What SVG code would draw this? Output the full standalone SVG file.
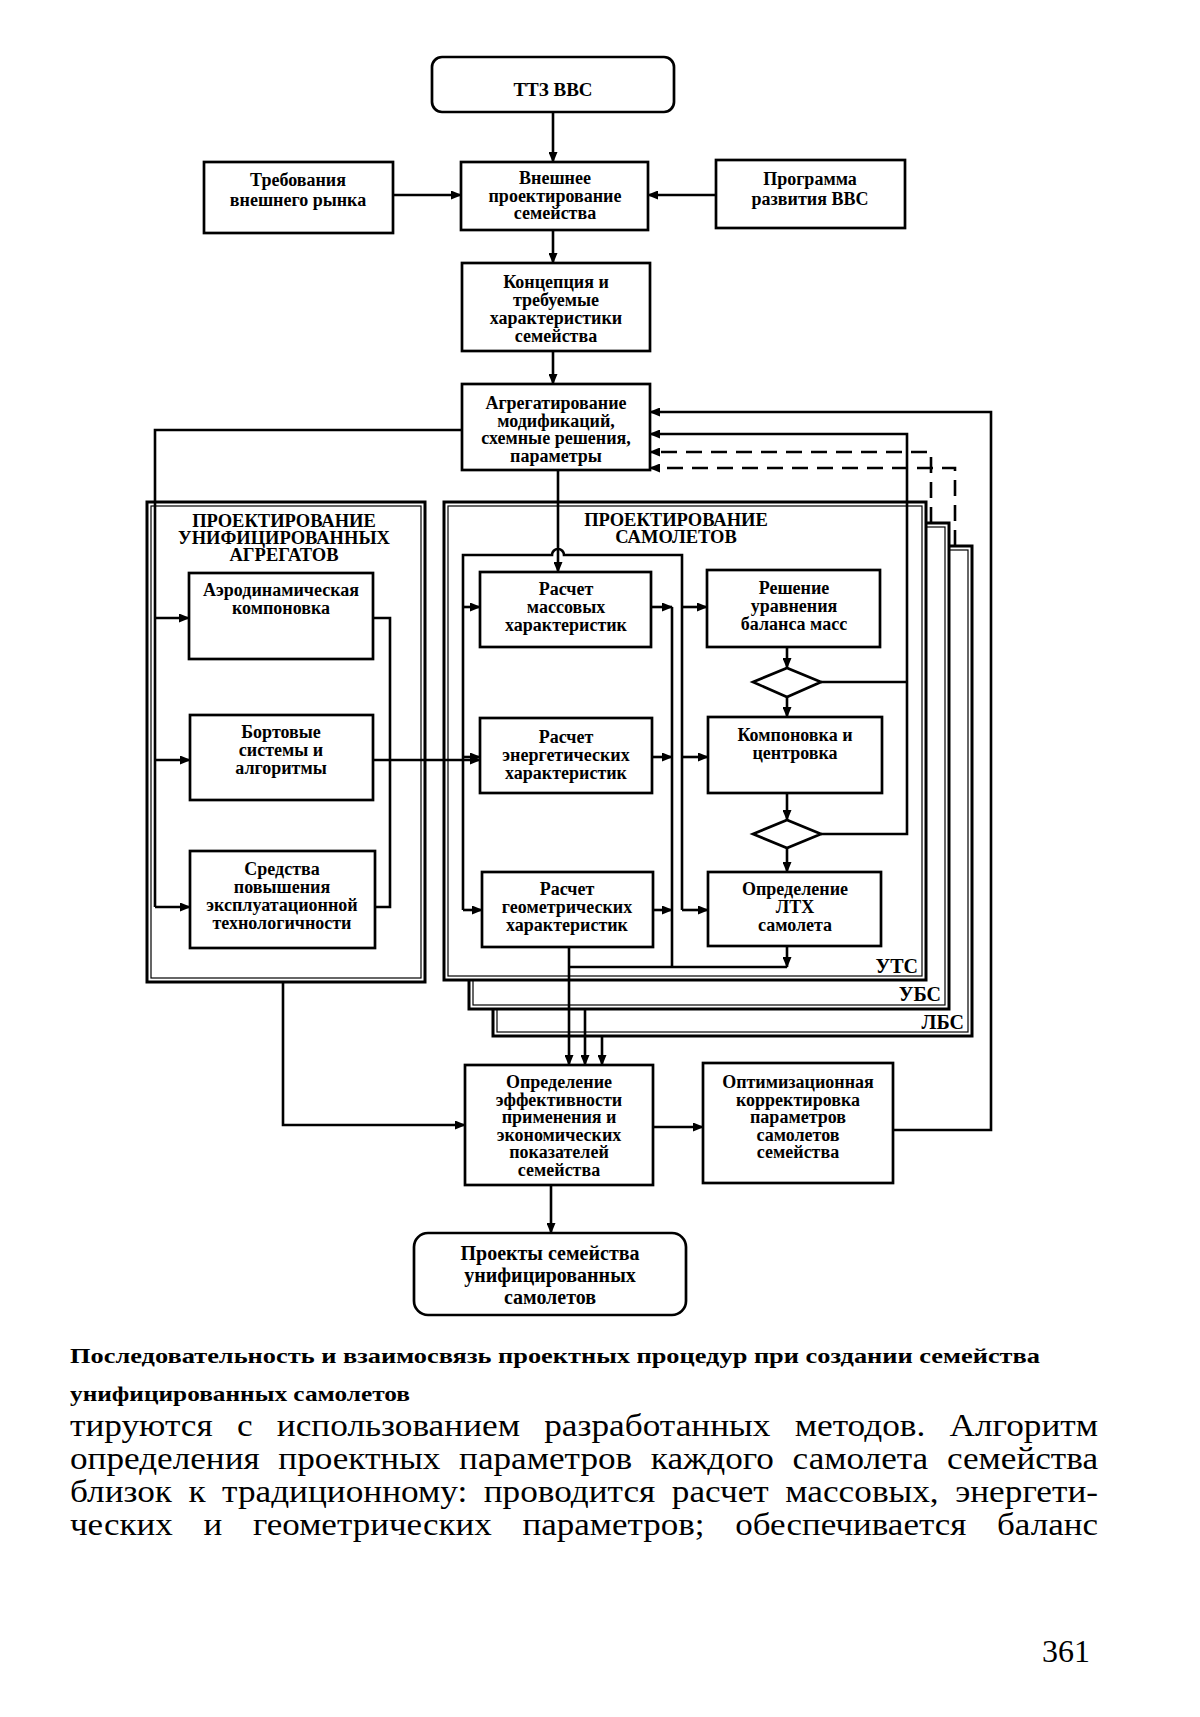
<svg xmlns="http://www.w3.org/2000/svg" width="1200" height="1717" viewBox="0 0 1200 1717">
<style>
.box{fill:#fff;stroke:#000;stroke-width:2.7}
.frm{fill:#fff;stroke:#000;stroke-width:3}
.frmi{fill:none;stroke:#000;stroke-width:1.2}
.ln{fill:none;stroke:#000;stroke-width:2.6}
.dash{stroke-dasharray:16 9}
.t{font-family:"Liberation Serif","Times New Roman",serif;font-weight:bold;font-size:18px;text-anchor:middle;fill:#000}
.tt{font-family:"Liberation Serif","Times New Roman",serif;font-weight:bold;font-size:18.5px;text-anchor:middle;fill:#000}
.lab{font-family:"Liberation Serif","Times New Roman",serif;font-weight:bold;font-size:20px;text-anchor:end;fill:#000}
.cap{font-family:"Liberation Serif","Times New Roman",serif;font-weight:bold;font-size:22px;fill:#000}
.body{font-family:"Liberation Serif","Times New Roman",serif;font-size:32px;fill:#000}
</style>
<defs>
<marker id="ar" markerUnits="userSpaceOnUse" markerWidth="11" markerHeight="9" refX="10" refY="4.5" orient="auto">
<path d="M0,0 L11,4.5 L0,9 z" fill="#000"/>
</marker>
</defs>
<rect width="1200" height="1717" fill="#fff"/>

<g id="frame-lbs">
<rect class="frm" x="493" y="546" width="479" height="490"/>
<rect class="frmi" x="497" y="550" width="471" height="482"/>
<text class="lab" x="964" y="1029">ЛБС</text>
</g>
<g id="frame-ubs">
<rect class="frm" x="469" y="523" width="480" height="486"/>
<rect class="frmi" x="473" y="527" width="472" height="478"/>
<text class="lab" x="941" y="1001">УБС</text>
</g>
<g id="frame-uts">
<rect class="frm" x="444" y="502" width="482" height="478"/>
<rect class="frmi" x="448" y="506" width="474" height="470"/>
<text class="tt" x="676" y="526">ПРОЕКТИРОВАНИЕ</text>
<text class="tt" x="676" y="543">САМОЛЕТОВ</text>
<text class="lab" x="918" y="973">УТС</text>
</g>
<g id="frame-agr">
<rect class="frm" x="147" y="502" width="278" height="480"/>
<rect class="frmi" x="151" y="506" width="270" height="472"/>
<text class="tt" x="284" y="527">ПРОЕКТИРОВАНИЕ</text>
<text class="tt" x="284" y="544">УНИФИЦИРОВАННЫХ</text>
<text class="tt" x="284" y="561">АГРЕГАТОВ</text>
</g>

<g id="ttz">
<rect class="box" x="432" y="57" width="242" height="55" rx="10"/>
<text class="t" x="553" y="96" style="font-size:19px">ТТЗ ВВС</text>
</g>
<g id="treb">
<rect class="box" x="204" y="162" width="189" height="71"/>
<text class="t" x="298" y="186">Требования</text>
<text class="t" x="298" y="206">внешнего рынка</text>
</g>
<g id="vnesh">
<rect class="box" x="461" y="162" width="187" height="68"/>
<text class="t" x="555" y="184">Внешнее</text>
<text class="t" x="555" y="201.5">проектирование</text>
<text class="t" x="555" y="219">семейства</text>
</g>
<g id="prog">
<rect class="box" x="716" y="160" width="189" height="68"/>
<text class="t" x="810" y="185">Программа</text>
<text class="t" x="810" y="205">развития ВВС</text>
</g>
<g id="konc">
<rect class="box" x="462" y="263" width="188" height="88"/>
<text class="t" x="556" y="288">Концепция и</text>
<text class="t" x="556" y="306">требуемые</text>
<text class="t" x="556" y="324">характеристики</text>
<text class="t" x="556" y="342">семейства</text>
</g>
<g id="agg">
<rect class="box" x="462" y="384" width="188" height="86"/>
<text class="t" x="556" y="409">Агрегатирование</text>
<text class="t" x="556" y="426.5">модификаций,</text>
<text class="t" x="556" y="444">схемные решения,</text>
<text class="t" x="556" y="461.5">параметры</text>
</g>
<g id="aero">
<rect class="box" x="189" y="573" width="184" height="86"/>
<text class="t" x="281" y="596">Аэродинамическая</text>
<text class="t" x="281" y="614">компоновка</text>
</g>
<g id="bort">
<rect class="box" x="190" y="715" width="183" height="85"/>
<text class="t" x="281" y="738">Бортовые</text>
<text class="t" x="281" y="756">системы и</text>
<text class="t" x="281" y="774">алгоритмы</text>
</g>
<g id="sred">
<rect class="box" x="190" y="851" width="185" height="97"/>
<text class="t" x="282" y="875">Средства</text>
<text class="t" x="282" y="893">повышения</text>
<text class="t" x="282" y="911">эксплуатационной</text>
<text class="t" x="282" y="929">технологичности</text>
</g>
<g id="mass">
<rect class="box" x="480" y="572" width="171" height="75"/>
<text class="t" x="566" y="595">Расчет</text>
<text class="t" x="566" y="613">массовых</text>
<text class="t" x="566" y="631">характеристик</text>
</g>
<g id="energ">
<rect class="box" x="480" y="718" width="172" height="75"/>
<text class="t" x="566" y="743">Расчет</text>
<text class="t" x="566" y="761">энергетических</text>
<text class="t" x="566" y="779">характеристик</text>
</g>
<g id="geom">
<rect class="box" x="482" y="872" width="171" height="75"/>
<text class="t" x="567" y="895">Расчет</text>
<text class="t" x="567" y="913">геометрических</text>
<text class="t" x="567" y="931">характеристик</text>
</g>
<g id="resh">
<rect class="box" x="707" y="570" width="173" height="77"/>
<text class="t" x="794" y="594">Решение</text>
<text class="t" x="794" y="612">уравнения</text>
<text class="t" x="794" y="630">баланса масс</text>
</g>
<g id="check1">
<polygon class="box" points="753,682 787,668 821,682 787,697"/>
</g>
<g id="komp">
<rect class="box" x="708" y="717" width="174" height="76"/>
<text class="t" x="795" y="741">Компоновка и</text>
<text class="t" x="795" y="759">центровка</text>
</g>
<g id="check2">
<polygon class="box" points="753,834 787,820 821,834 787,848"/>
</g>
<g id="ltx">
<rect class="box" x="708" y="872" width="173" height="74"/>
<text class="t" x="795" y="895">Определение</text>
<text class="t" x="795" y="913">ЛТХ</text>
<text class="t" x="795" y="931">самолета</text>
</g>
<g id="opr">
<rect class="box" x="465" y="1065" width="188" height="120"/>
<text class="t" x="559" y="1088">Определение</text>
<text class="t" x="559" y="1105.5">эффективности</text>
<text class="t" x="559" y="1123">применения и</text>
<text class="t" x="559" y="1140.5">экономических</text>
<text class="t" x="559" y="1158">показателей</text>
<text class="t" x="559" y="1175.5">семейства</text>
</g>
<g id="opt">
<rect class="box" x="703" y="1063" width="190" height="120"/>
<text class="t" x="798" y="1088">Оптимизационная</text>
<text class="t" x="798" y="1105.5">корректировка</text>
<text class="t" x="798" y="1123">параметров</text>
<text class="t" x="798" y="1140.5">самолетов</text>
<text class="t" x="798" y="1158">семейства</text>
</g>
<g id="proj">
<rect class="box" x="414" y="1233" width="272" height="82" rx="14"/>
<text class="t" x="550" y="1260" style="font-size:20px">Проекты семейства</text>
<text class="t" x="550" y="1282" style="font-size:20px">унифицированных</text>
<text class="t" x="550" y="1304" style="font-size:20px">самолетов</text>
</g>

<g id="connectors">
<path class="ln" d="M553,112 V162" marker-end="url(#ar)"/>
<path class="ln" d="M393,195 H461" marker-end="url(#ar)"/>
<path class="ln" d="M716,195 H648" marker-end="url(#ar)"/>
<path class="ln" d="M553,230 V263" marker-end="url(#ar)"/>
<path class="ln" d="M553,351 V384" marker-end="url(#ar)"/>
<path class="ln" d="M462,430 H155 V907"/>
<path class="ln" d="M155,618 H189" marker-end="url(#ar)"/>
<path class="ln" d="M155,760 H190" marker-end="url(#ar)"/>
<path class="ln" d="M155,907 H190" marker-end="url(#ar)"/>
<path class="ln" d="M373,618 H390 V907 H375"/>
<path class="ln" d="M373,760 H480" marker-end="url(#ar)"/>
<path class="ln" d="M558,470 V572" marker-end="url(#ar)"/>
<path class="ln" d="M463,910 V555 H552 A6,6 0 0 1 564,555 H682 V910"/>
<path class="ln" d="M463,607 H480" marker-end="url(#ar)"/>
<path class="ln" d="M463,757 H480" marker-end="url(#ar)"/>
<path class="ln" d="M463,910 H482" marker-end="url(#ar)"/>
<path class="ln" d="M651,607 H672" marker-end="url(#ar)"/>
<path class="ln" d="M652,757 H672" marker-end="url(#ar)"/>
<path class="ln" d="M653,910 H672" marker-end="url(#ar)"/>
<path class="ln" d="M672,607 V967"/>
<path class="ln" d="M682,607 H707" marker-end="url(#ar)"/>
<path class="ln" d="M682,757 H708" marker-end="url(#ar)"/>
<path class="ln" d="M682,910 H708" marker-end="url(#ar)"/>
<path class="ln" d="M787,647 V668" marker-end="url(#ar)"/>
<path class="ln" d="M787,697 V717" marker-end="url(#ar)"/>
<path class="ln" d="M787,793 V820" marker-end="url(#ar)"/>
<path class="ln" d="M787,848 V872" marker-end="url(#ar)"/>
<path class="ln" d="M821,682 H907"/>
<path class="ln" d="M821,834 H907 V434 H650" marker-end="url(#ar)"/>
<path class="ln" d="M787,946 V967" marker-end="url(#ar)"/>
<path class="ln" d="M787,967 H569"/>
<path class="ln" d="M569,947 V1065" marker-end="url(#ar)"/>
<path class="ln" d="M585,1009 V1065" marker-end="url(#ar)"/>
<path class="ln" d="M602,1036 V1065" marker-end="url(#ar)"/>
<path class="ln dash" d="M931,523 V452 H650" marker-end="url(#ar)"/>
<path class="ln dash" d="M955,546 V468 H650" marker-end="url(#ar)"/>
<path class="ln" d="M893,1130 H991 V412 H650" marker-end="url(#ar)"/>
<path class="ln" d="M283,982 V1125 H465" marker-end="url(#ar)"/>
<path class="ln" d="M653,1127 H703" marker-end="url(#ar)"/>
<path class="ln" d="M551,1185 V1233" marker-end="url(#ar)"/>
</g>

<g id="caption">
<text class="cap" x="70" y="1363" textLength="970" lengthAdjust="spacingAndGlyphs">Последовательность и взаимосвязь проектных процедур при создании семейства</text>
<text class="cap" x="70" y="1401" textLength="340" lengthAdjust="spacingAndGlyphs">унифицированных самолетов</text>
</g>
<g id="body">
<text class="body" x="70" y="1436" style="word-spacing:14px" textLength="1028" lengthAdjust="spacingAndGlyphs">тируются с использованием разработанных методов. Алгоритм</text>
<text class="body" x="70" y="1469" style="word-spacing:9px" textLength="1028" lengthAdjust="spacingAndGlyphs">определения проектных параметров каждого самолета семейства</text>
<text class="body" x="70" y="1502" style="word-spacing:7px" textLength="1028" lengthAdjust="spacingAndGlyphs">близок к традиционному: проводится расчет массовых, энергети-</text>
<text class="body" x="70" y="1535" style="word-spacing:20px" textLength="1028" lengthAdjust="spacingAndGlyphs">ческих и геометрических параметров; обеспечивается баланс</text>
<text class="body" x="1090" y="1662" text-anchor="end">361</text>
</g>
</svg>
